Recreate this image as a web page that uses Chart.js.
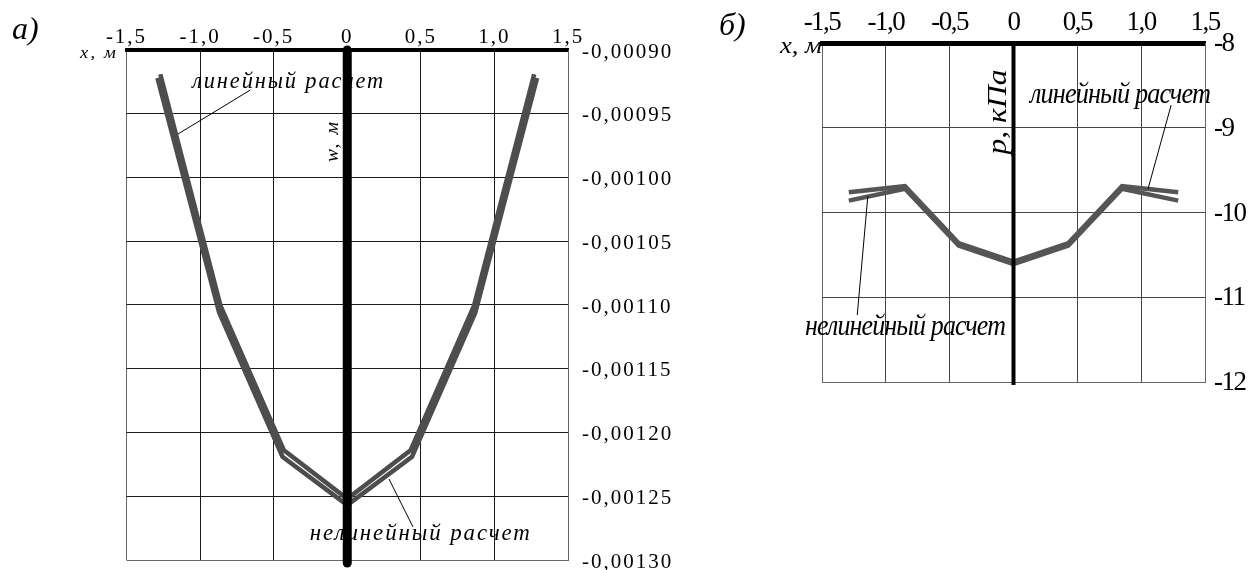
<!DOCTYPE html>
<html>
<head>
<meta charset="utf-8">
<script src="https://cdn.jsdelivr.net/npm/chart.js@4"></script>
<style>
  html, body { margin: 0; padding: 0; background: #fff; }
  #hoja { position: relative; width: 1252px; height: 570px; overflow: hidden; }
  #a { position: absolute; left: 0; top: 0; }
  #b { position: absolute; left: 700px; top: 0; }
</style>
</head>
<body>
<div id="hoja">
  <canvas id="a" width="700" height="570"></canvas>
  <canvas id="b" width="552" height="570"></canvas>
</div>
<script>
/* Подписи осей */
const xTicks = ['-1,5', '-1,0', '-0,5', '0', '0,5', '1,0', '1,5'];
const wTicks = ['-0,00130', '-0,00125', '-0,00120', '-0,00115', '-0,00110',
                '-0,00105', '-0,00100', '-0,00095', '-0,00090'];
const pTicks = ['-12', '-11', '-10', '-9', '-8'];

/* а) прогиб w, м */
const xLinW = [-1.27, -0.86, -0.43, 0, 0.43, 0.86, 1.27];
const wLin  = [-0.000919, -0.001101, -0.001214, -0.001252, -0.001214, -0.001101, -0.000919];
const xNelW = [-1.29, -0.87, -0.44, 0, 0.44, 0.87, 1.29];
const wNel  = [-0.000922, -0.001106, -0.001219, -0.001257, -0.001219, -0.001106, -0.000922];

/* б) давление p, кПа */
const xP   = [-1.29, -0.85, -0.43, 0, 0.43, 0.85, 1.29];
const pLin = [-9.76, -9.69, -10.36, -10.58, -10.36, -9.69, -9.76];
const pNel = [-9.86, -9.72, -10.39, -10.61, -10.39, -9.72, -9.86];

function pts(xs, ys) {
    return xs.map((x, i) => ({ x: x, y: ys[i] }));
}

function texto(ctx, t, x, y, o) {
    ctx.save();
    ctx.font = o.font;
    ctx.letterSpacing = o.ls || '0px';
    ctx.fillStyle = '#000';
    ctx.textAlign = o.align || 'left';
    ctx.textBaseline = o.base || 'alphabetic';
    let k = o.ancho ? o.ancho / ctx.measureText(t).width : 1;
    ctx.translate(x, y);
    if (o.rot) ctx.rotate(o.rot);
    ctx.scale(k, 1);
    ctx.fillText(t, 0, 0);
    ctx.restore();
}

/* интервал между буквами для подписей шкал */
const espaciado = {
    id: 'espaciado',
    beforeLayout(c, a, o) { c.ctx.letterSpacing = o.ls; },
    beforeDraw(c, a, o) { c.ctx.letterSpacing = o.ls; }
};

/* выноски, надписи и ось x = 0 */
const notas = {
    id: 'notas',
    afterDatasetsDraw(c, a, o) {
        const ctx = c.ctx, sx = c.scales.x, sy = c.scales.y;
        o.lineas.forEach(l => {
            ctx.save();
            ctx.strokeStyle = '#000';
            ctx.lineWidth = 1;
            ctx.beginPath();
            ctx.moveTo(sx.getPixelForValue(l[0]), sy.getPixelForValue(l[1]));
            ctx.lineTo(sx.getPixelForValue(l[2]), sy.getPixelForValue(l[3]));
            ctx.stroke();
            ctx.restore();
        });
        o.textos.forEach(t => texto(ctx, t.t, sx.getPixelForValue(t.x), sy.getPixelForValue(t.y), t));
        o.fijos.forEach(t => texto(ctx, t.t, t.px, t.py, t));

        const x0 = sx.getPixelForValue(0);
        ctx.save();
        ctx.strokeStyle = '#000';
        ctx.lineWidth = o.ceroAncho;
        ctx.lineCap = o.ceroCap;
        ctx.beginPath();
        ctx.moveTo(x0, c.chartArea.top);
        ctx.lineTo(x0, c.chartArea.bottom + o.ceroExtra);
        ctx.stroke();
        ctx.restore();
    }
};

function crearGrafica(canvas, o) {
    return new Chart(canvas, {
        type: 'line',
        data: {
            datasets: [{
                label: 'линейный расчет',
                data: pts(o.xLin, o.yLin),
                borderColor: o.color,
                borderWidth: o.lw,
                borderJoinStyle: 'miter',
                pointRadius: 0,
                tension: 0
            }, {
                label: 'нелинейный расчет',
                data: pts(o.xNel, o.yNel),
                borderColor: o.color,
                borderWidth: o.lw,
                borderJoinStyle: 'miter',
                pointRadius: 0,
                tension: 0
            }]
        },
        options: {
            responsive: false,
            animation: false,
            events: [],
            layout: { padding: o.padding },
            plugins: {
                legend: { display: false },
                tooltip: { enabled: false },
                espaciado: { ls: o.ls },
                notas: o.notas
            },
            scales: {
                x: {
                    type: 'linear',
                    position: 'top',
                    min: -1.5,
                    max: 1.5,
                    ticks: {
                        stepSize: 0.5,
                        autoSkip: false,
                        maxRotation: 0,
                        padding: o.xPad,
                        color: '#000',
                        font: o.xFont,
                        callback: (v, i) => xTicks[i]
                    },
                    grid: {
                        drawTicks: false,
                        lineWidth: 1,
                        color: (g) => (g.index === 0 || g.index === 6) ? o.borde : o.rejilla
                    },
                    border: { display: true, color: '#000', width: o.ejeAncho },
                    afterFit: (s) => { s.height = o.top; s.paddingLeft = 0; s.paddingRight = 0; }
                },
                y: {
                    type: 'linear',
                    position: 'right',
                    min: o.yMin,
                    max: o.yMax,
                    ticks: {
                        stepSize: o.paso,
                        autoSkip: false,
                        padding: o.yPad,
                        labelOffset: o.yOff,
                        color: '#000',
                        font: o.yFont,
                        callback: (v, i) => o.yTicks[i]
                    },
                    grid: {
                        drawTicks: false,
                        lineWidth: 1,
                        color: (g) => g.index === 0 ? o.borde : o.rejilla
                    },
                    border: { display: true, color: o.borde, width: 1 },
                    afterFit: (s) => { s.width = o.derecha; s.paddingTop = 0; s.paddingBottom = 0; }
                }
            }
        },
        plugins: [espaciado, notas]
    });
}

const serif = '"Liberation Serif", "Times New Roman", serif';

crearGrafica(document.getElementById('a'), {
    xLin: xLinW, yLin: wLin, xNel: xNelW, yNel: wNel,
    yMin: -0.0013, yMax: -0.0009, paso: 0.00005, yTicks: wTicks,
    color: '#4d4d4d', lw: 4.5,
    padding: { left: 126.5, bottom: 10, right: 0, top: 0 },
    top: 50, derecha: 132,
    ls: '2px',
    xFont: { family: serif, size: 21 }, xPad: 0,
    yFont: { family: serif, size: 21 }, yPad: 14, yOff: 2,
    rejilla: '#1a1a1a', borde: '#666', ejeAncho: 4,
    notas: {
        ceroAncho: 9, ceroCap: 'round', ceroExtra: 3,
        lineas: [
            [-0.659, -0.0009314, -1.150, -0.0009659],
            [0.4468, -0.0012741, 0.2837, -0.0012365]
        ],
        textos: [
            { t: 'линейный расчет', x: -1.054, y: -0.0009298, font: 'italic 24px ' + serif, ls: '2px', ancho: 193 },
            { t: 'нелинейный расчет', x: -0.2548, y: -0.0012843, font: 'italic 24px ' + serif, ls: '2px', ancho: 222 }
        ],
        fijos: [
            { t: 'а)', px: 12, py: 39, font: 'italic 32px ' + serif },
            { t: 'x, м', px: 80, py: 58, font: 'italic 17px ' + serif, ls: '2px', ancho: 38 },
            { t: 'w, м', px: 333, py: 141, font: 'italic 19px ' + serif, ls: '2px', ancho: 42,
              rot: -Math.PI / 2, align: 'center', base: 'middle' }
        ]
    }
});

crearGrafica(document.getElementById('b'), {
    xLin: xP, yLin: pLin, xNel: xP, yNel: pNel,
    yMin: -12, yMax: -8, paso: 1, yTicks: pTicks,
    color: '#555555', lw: 4.5,
    padding: { left: 122, bottom: 188, right: 0, top: 0 },
    top: 43, derecha: 47,
    ls: '-1.5px',
    xFont: { family: serif, size: 27 }, xPad: 4,
    yFont: { family: serif, size: 27 }, yPad: 9, yOff: 1,
    rejilla: '#444', borde: '#666', ejeAncho: 5,
    notas: {
        ceroAncho: 4, ceroCap: 'butt', ceroExtra: 3,
        lineas: [
            [1.235, -8.7316, 1.0535, -9.7227],
            [-1.224, -11.21, -1.141, -9.807]
        ],
        textos: [
            { t: 'линейный расчет', x: 0.129, y: -8.708, font: 'italic 30px ' + serif, ls: '-1px', ancho: 180 },
            { t: 'нелинейный расчет', x: -1.633, y: -11.445, font: 'italic 30px ' + serif, ls: '-1px', ancho: 200 }
        ],
        fijos: [
            { t: 'б)', px: 19, py: 35, font: 'italic 32px ' + serif },
            { t: 'x, м', px: 80, py: 53, font: 'italic 24px ' + serif, ancho: 42 },
            { t: 'p, кПа', px: 299, py: 112, font: 'italic 28px ' + serif, ancho: 85,
              rot: -Math.PI / 2, align: 'center', base: 'middle' }
        ]
    }
});
</script>
</body>
</html>
